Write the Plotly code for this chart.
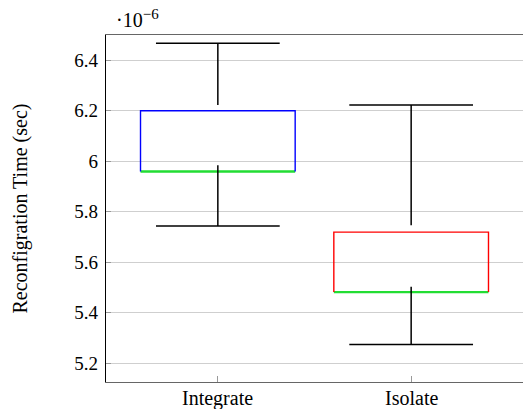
import plotly.graph_objects as go

categories = ["Integrate", "Isolate"]
# values in units of 1e-6 s
lower_cap = [5.743, 5.275]
lower_whisker_end = [5.984, 5.503]
q1 = [5.959, 5.482]
median = [5.959, 5.482]
q3 = [6.199, 5.719]
upper_whisker_end = [6.2225, 5.746]
upper_cap = [6.466, 6.2225]
box_colors = ["#0000ff", "#ff0000"]
y_ticks = [5.2, 5.4, 5.6, 5.8, 6.0, 6.2, 6.4]
y_tick_labels = ["5.2", "5.4", "5.6", "5.8", "6", "6.2", "6.4"]

BOX_HALF = 0.4
CAP_HALF = 0.32
FONT = "Liberation Serif"
W, H = 523, 409
ML, MR, MT, MB = 106, 0, 35, 27
PW = W - ML - MR

fig = go.Figure()
for i, cat in enumerate(categories):
    xc = i + 1
    fig.add_trace(go.Scatter(
        x=[xc - BOX_HALF, xc + BOX_HALF],
        y=[median[i], median[i]],
        mode="lines", line=dict(color="#22dd33", width=2.4),
        hoverinfo="skip", showlegend=False))
    fig.add_trace(go.Scatter(
        x=[xc - BOX_HALF, xc - BOX_HALF, xc + BOX_HALF, xc + BOX_HALF],
        y=[q1[i], q3[i], q3[i], q1[i]],
        mode="lines", line=dict(color=box_colors[i], width=1.4),
        hoverinfo="skip", showlegend=False))
    fig.add_trace(go.Scatter(
        x=[xc, xc, None, xc, xc],
        y=[upper_whisker_end[i], upper_cap[i], None, lower_whisker_end[i], lower_cap[i]],
        mode="lines", line=dict(color="black", width=1.5),
        hoverinfo="skip", showlegend=False))
    fig.add_trace(go.Scatter(
        x=[xc - CAP_HALF, xc + CAP_HALF, None, xc - CAP_HALF, xc + CAP_HALF],
        y=[upper_cap[i], upper_cap[i], None, lower_cap[i], lower_cap[i]],
        mode="lines", line=dict(color="black", width=1.5),
        hoverinfo="skip", showlegend=False))

annotations = [dict(
    text="·10<sup><span style='font-size:15px'>−6</span></sup>", xref="paper", yref="paper",
    x=0.0, y=1.0, xanchor="left", yanchor="bottom", xshift=8, yshift=2,
    showarrow=False, font=dict(family=FONT, size=20))]
for i, cat in enumerate(categories):
    annotations.append(dict(
        text=cat, xref="x", yref="paper", x=i + 1, y=0,
        xanchor="center", yanchor="top", yshift=-3,
        showarrow=False, font=dict(family=FONT, size=20)))
annotations.append(dict(
    text="Reconfigration Time (sec)", xref="paper", yref="paper",
    x=(20 - ML) / PW, y=0.5, xanchor="center", yanchor="middle",
    textangle=-90, showarrow=False, font=dict(family=FONT, size=20)))

fig.update_layout(
    width=W, height=H,
    margin=dict(l=ML, r=MR, t=MT, b=MB, autoexpand=False),
    plot_bgcolor="white", paper_bgcolor="white",
    font=dict(family=FONT, size=19, color="black"),
    xaxis=dict(
        range=[0.4215, 2.5785],
        tickvals=[1, 2], showticklabels=False,
        ticks="inside", ticklen=6, tickcolor="#999", tickwidth=1,
        showgrid=False, zeroline=False, automargin=False,
        showline=True, linecolor="#666", linewidth=1.3, mirror=True,
    ),
    yaxis=dict(
        range=[5.1263, 6.4989],
        tickvals=y_ticks, ticktext=y_tick_labels,
        ticks="inside", ticklen=5, tickcolor="#999", tickwidth=1,
        ticklabelstandoff=3,
        showgrid=True, gridcolor="#cfcfcf", gridwidth=1,
        zeroline=False, automargin=False,
        showline=True, linecolor="black", linewidth=1.3,
        tickfont=dict(family=FONT, size=19),
    ),
    annotations=annotations,
)

fig.write_html("out.html", config={"displayModeBar": False},
               post_script="document.body.style.margin='0px';document.body.style.overflow='hidden';")
